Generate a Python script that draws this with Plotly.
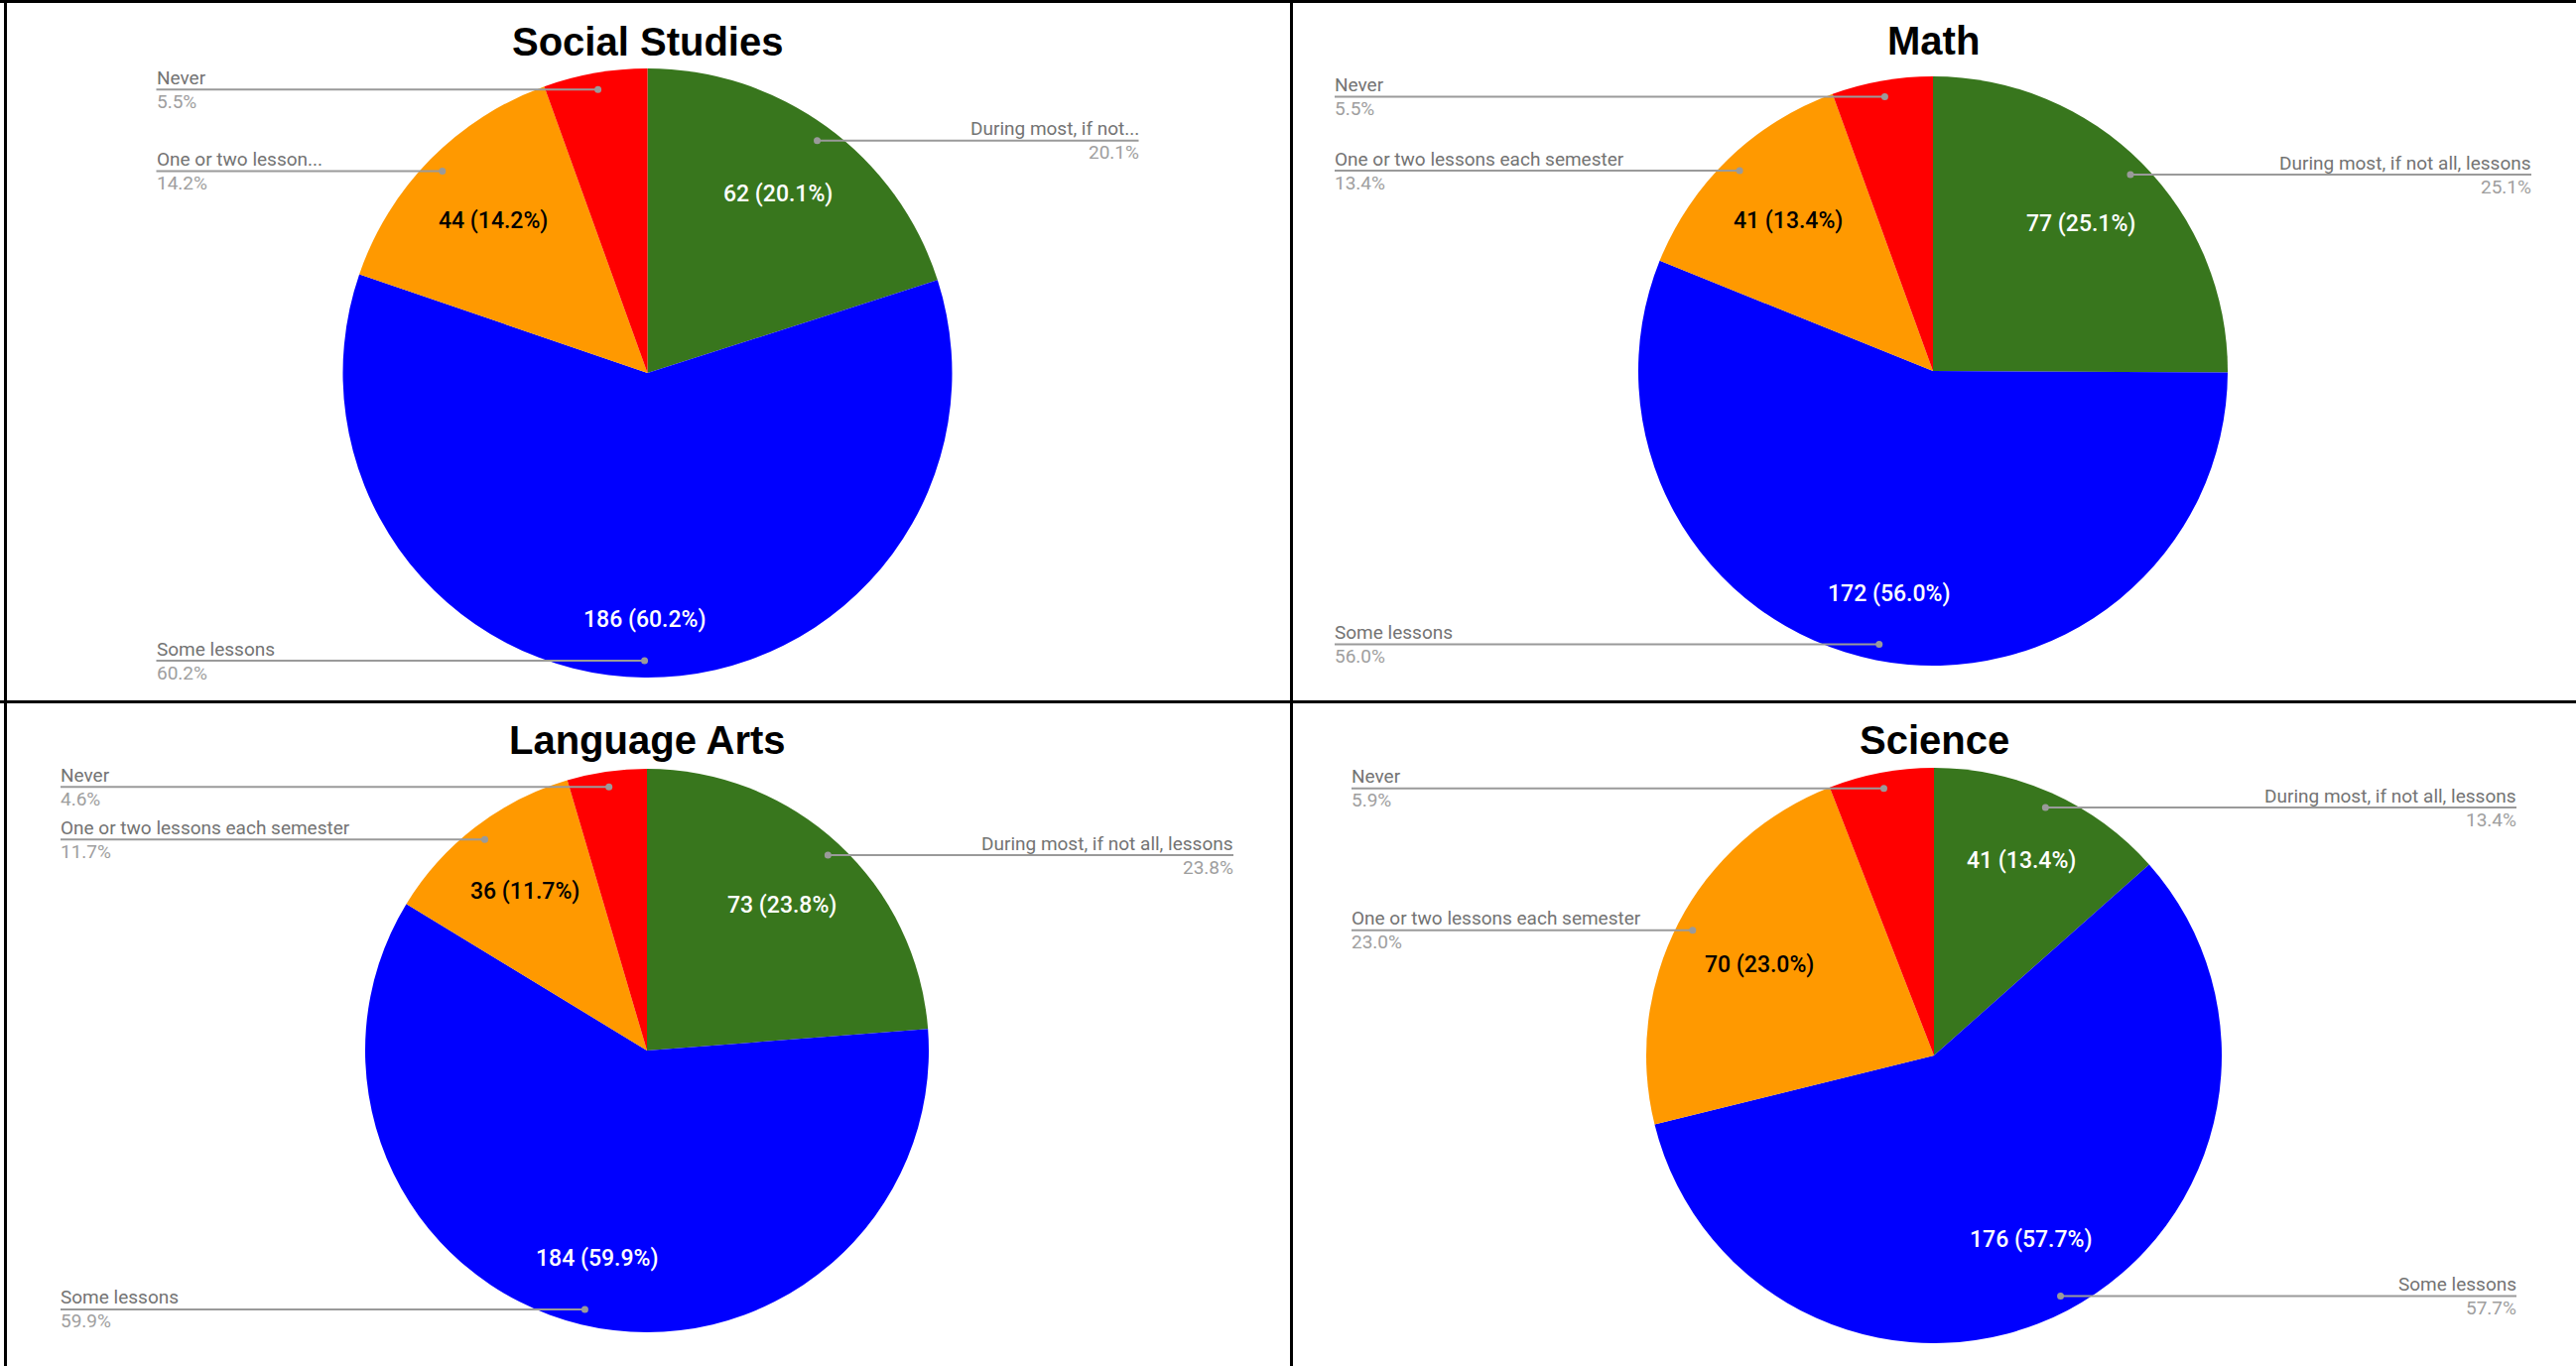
import math
import plotly.graph_objects as go

# ---------------- data ----------------
categories = ["During most, if not all, lessons", "Some lessons",
              "One or two lessons each semester", "Never"]
slice_colors = ["#38761d", "#0000ff", "#ff9900", "#ff0000"]
inside_text_colors = ["white", "white", "black", "white"]
show_inside_text = [True, True, True, False]

subjects = ["Social Studies", "Math", "Language Arts", "Science"]
social_studies = [62, 186, 44, 17]
math_values = [77, 172, 41, 17]
language_arts = [73, 184, 36, 14]
science = [41, 176, 70, 18]

# Social Studies chart shows truncated side labels
social_studies_labels = ["During most, if not...", "Some lessons",
                         "One or two lesson...", "Never"]

# ---------------- layout (pixels) ----------------
W, H = 2596, 1377

panels = [
    dict(title=subjects[0], values=social_studies, side_labels=social_studies_labels,
         cx=652.5, cy=376.0, r=307.0, lw=495.0, ty=41.5),
    dict(title=subjects[1], values=math_values, side_labels=categories,
         cx=1948.0, cy=374.0, r=297.0, lw=603.0, ty=41.0),
    dict(title=subjects[2], values=language_arts, side_labels=categories,
         cx=652.0, cy=1059.0, r=284.0, lw=591.0, ty=746.0),
    dict(title=subjects[3], values=science, side_labels=categories,
         cx=1949.0, cy=1064.0, r=290.0, lw=587.0, ty=746.0),
]

INSIDE_SIZE = 23
# approximate Roboto advance widths (em) used to keep slice labels inside the pie
ROBOTO_W = {"(": 0.342, ")": 0.348, ".": 0.263, "%": 0.733, " ": 0.248}


def text_width(s, size):
    return sum(ROBOTO_W.get(ch, 0.562) for ch in s) * size


def px_x(x):
    return x / W


def px_y(y):
    return 1 - y / H


fig = go.Figure()
shapes = []
annotations = []

LINE_COLOR = "#9a9a9a"
NAME_COLOR = "#737373"
PCT_COLOR = "#9e9e9e"

for p in panels:
    vals = p["values"]
    total = sum(vals)
    cx, cy, r = p["cx"], p["cy"], p["r"]
    fig.add_trace(go.Pie(
        labels=categories,
        values=vals,
        sort=False,
        direction="clockwise",
        rotation=0,
        marker=dict(colors=slice_colors, line=dict(width=0)),
        textinfo="none",
        hoverinfo="label+value+percent",
        showlegend=False,
        domain=dict(x=[px_x(cx - r), px_x(cx + r)],
                    y=[px_y(cy + r), px_y(cy - r)]),
    ))

    # title
    annotations.append(dict(
        text=p["title"], x=px_x(cx), y=px_y(p["ty"]), xref="paper", yref="paper",
        xanchor="center", yanchor="middle", showarrow=False,
        font=dict(family="Liberation Sans, Arial", size=40, color="black", weight="bold"),
    ))

    cum = 0
    for i, v in enumerate(vals):
        mid = (cum + v / 2) / total * 2 * math.pi
        cum += v
        s, c = math.sin(mid), math.cos(mid)

        # slice text: value (percent), kept so its far corner sits at 0.87 R
        if show_inside_text[i]:
            txt = f"{v} ({v / total * 100:.1f}%)"
            w = text_width(txt, INSIDE_SIZE)
            h = 22.0
            b = abs(s) * w + abs(c) * h
            k = (w * w + h * h) / 4 - (0.87 * r) ** 2
            d = (-b + math.sqrt(b * b - 4 * k)) / 2
            annotations.append(dict(
                text=txt, x=px_x(cx + d * s), y=px_y(cy - d * c), xref="paper", yref="paper",
                xanchor="center", yanchor="middle", showarrow=False, borderpad=0, borderwidth=0,
                font=dict(family="Roboto", size=INSIDE_SIZE, color=inside_text_colors[i], weight=500)))

        # side labels with leader lines
        dx = cx + 0.945 * r * s
        dy = cy - 0.945 * r * c
        pct = f"{v / total * 100:.1f}%"
        if s < 0:
            lx = cx - p["lw"]
            xanchor = "left"
        else:
            lx = cx + p["lw"]
            xanchor = "right"
        shapes.append(dict(type="line", xref="paper", yref="paper", layer="above",
                           x0=px_x(lx), y0=px_y(dy), x1=px_x(dx), y1=px_y(dy),
                           line=dict(color=LINE_COLOR, width=2)))
        shapes.append(dict(type="circle", xref="paper", yref="paper", layer="above",
                           xsizemode="pixel", ysizemode="pixel",
                           xanchor=px_x(dx), yanchor=px_y(dy),
                           x0=-3.5, x1=3.5, y0=-3.5, y1=3.5,
                           fillcolor=LINE_COLOR, line=dict(width=0)))
        annotations.append(dict(
            text=p["side_labels"][i], x=px_x(lx), y=px_y(dy - 12), xref="paper", yref="paper",
            xanchor=xanchor, yanchor="middle", showarrow=False, borderpad=0, borderwidth=0,
            font=dict(family="Roboto", size=19, color=NAME_COLOR)))
        annotations.append(dict(
            text=pct, x=px_x(lx), y=px_y(dy + 12), xref="paper", yref="paper",
            xanchor=xanchor, yanchor="middle", showarrow=False, borderpad=0, borderwidth=0,
            font=dict(family="Roboto", size=19, color=PCT_COLOR)))

# panel borders
border = dict(color="black", width=3)
shapes += [
    dict(type="line", xref="paper", yref="paper", x0=0, x1=1, y0=px_y(1.5), y1=px_y(1.5), line=border),
    dict(type="line", xref="paper", yref="paper", x0=px_x(5.5), x1=px_x(5.5), y0=0, y1=1, line=border),
    dict(type="line", xref="paper", yref="paper", x0=px_x(1301.5), x1=px_x(1301.5), y0=0, y1=1, line=border),
    dict(type="line", xref="paper", yref="paper", x0=0, x1=1, y0=px_y(707.5), y1=px_y(707.5), line=border),
]

fig.update_layout(
    width=W, height=H,
    margin=dict(l=0, r=0, t=0, b=0),
    paper_bgcolor="white", plot_bgcolor="white",
    shapes=shapes, annotations=annotations,
    font=dict(family="Roboto"),
)

fig.write_html("out.html", config={"displayModeBar": False},
               post_script="document.body.style.margin='0';document.body.style.overflow='hidden';")
